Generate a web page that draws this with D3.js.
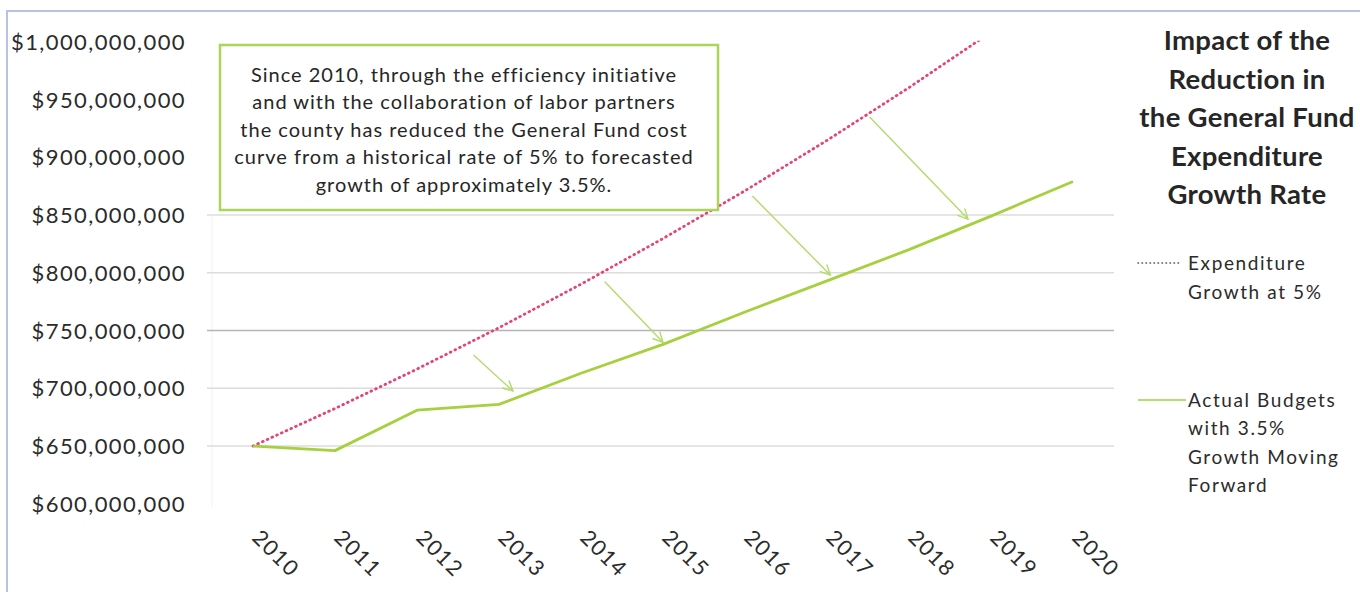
<!DOCTYPE html>
<html><head><meta charset="utf-8">
<script src="https://cdn.jsdelivr.net/npm/d3@7"></script>
<style>body{margin:0;background:#fff}svg{display:block}</style>
</head><body>
<svg id="chart" width="1360" height="592"></svg>
<script>
// ---- data (values in millions of dollars) ----
const years = ["2010","2011","2012","2013","2014","2015","2016","2017","2018","2019","2020"];
const growth5 = [650, 682.5, 716.6, 752.4, 790.1, 829.6, 871.0, 914.6, 960.3, 1008.3, 1058.7];
const actual  = [650, 646, 681, 686, 713, 738, 766, 793, 820, 849, 879];
const yTicks = [600, 650, 700, 750, 800, 850, 900, 950, 1000];
const gridTicks = [650, 700, 750, 800, 850];
const seriesNames = [["Expenditure", "Growth at 5%"], ["Actual Budgets", "with 3.5%", "Growth Moving", "Forward"]];
// arrows: [from year-index, from $M, to year-index, to $M]
const arrows = [[2.69, 728.8, 3.17, 697.6], [4.29, 792.3, 5.00, 739.8], [6.09, 866.5, 7.04, 798.0], [7.52, 934.8, 8.72, 846.5]];
const titleLines = ["Impact of the", "Reduction in", "the General Fund", "Expenditure", "Growth Rate"];
const noteLines = ["Since 2010, through the efficiency initiative", "and with the collaboration of labor partners",
  "the county has reduced the General Fund cost", "curve from a historical rate of 5% to forecasted",
  "growth of approximately 3.5%."];

// ---- layout ----
const svg = d3.select("#chart");
const FONT = "Lato, 'Open Sans', sans-serif";
const plot = {left: 212, right: 1114, top: 41.75, bottom: 503.75};
const x = d3.scalePoint().domain(years).range([plot.left, plot.right]).padding(0.5);
const xi = d3.scaleLinear().domain([0, years.length - 1]).range([x(years[0]), x(years[years.length - 1])]);
const y = d3.scaleLinear().domain([600, 1000]).range([plot.bottom, plot.top]);
const fmt = v => "$" + d3.format(",")(Math.round(v * 1e6));

// outer frame
svg.append("rect").attr("x", 7).attr("y", 11).attr("width", 1420).attr("height", 700)
  .attr("fill", "none").attr("stroke", "#b9c1e6").attr("stroke-width", 2);

// faint vertical axis line
svg.append("line").attr("x1", plot.left).attr("x2", plot.left).attr("y1", y(850)).attr("y2", y(600) + 3)
  .attr("stroke", "#f1f1f1").attr("stroke-width", 1);

// gridlines
svg.append("g").selectAll("line").data(gridTicks).join("line")
  .attr("x1", plot.left - 5).attr("x2", plot.right)
  .attr("y1", d => y(d)).attr("y2", d => y(d))
  .attr("stroke", d => d === 750 ? "#b5b5b5" : "#dcdcdc").attr("stroke-width", 1.3);

// y-axis labels
svg.append("g").selectAll("text").data(yTicks).join("text")
  .attr("x", 186).attr("y", d => y(d) + 8)
  .attr("text-anchor", "end").attr("font-family", FONT).attr("font-size", 22)
  .attr("letter-spacing", 1.4).attr("fill", "#2b2b2b").text(fmt);

// x-axis labels (rotated)
svg.append("g").selectAll("text").data(years).join("text")
  .attr("transform", d => `translate(${x(d) - 2},539) rotate(45)`)
  .attr("font-family", FONT).attr("font-size", 21.5).attr("letter-spacing", 1.4)
  .attr("fill", "#2b2b2b").text(d => d);

// clip for the plot area
svg.append("defs").append("clipPath").attr("id", "clip").append("rect")
  .attr("x", plot.left - 10).attr("y", plot.top - 1).attr("width", plot.right - plot.left + 20).attr("height", 500);

const line = d3.line().x((d, i) => x(years[i])).y(d => y(d));

// 5% growth dotted line
svg.append("path").datum(growth5).attr("clip-path", "url(#clip)")
  .attr("d", line).attr("fill", "none").attr("stroke", "#e2457a").attr("stroke-width", 2.8)
  .attr("stroke-dasharray", "0.8,4.4").attr("stroke-linecap", "round");

// actual budgets line
svg.append("path").datum(actual)
  .attr("d", line).attr("fill", "none").attr("stroke", "#a6d03f").attr("stroke-width", 2.8)
  .attr("stroke-linejoin", "round");

// arrow marker
const defs = svg.select("defs");
defs.append("marker").attr("id", "arr").attr("viewBox", "0 0 12 12").attr("refX", 11).attr("refY", 6)
  .attr("markerWidth", 12).attr("markerHeight", 12).attr("markerUnits", "userSpaceOnUse").attr("orient", "auto")
  .append("path").attr("d", "M1,1 L11,6 L1,11").attr("fill", "none").attr("stroke", "#b3da6a").attr("stroke-width", 1.4);

svg.append("g").selectAll("line").data(arrows).join("line")
  .attr("x1", d => xi(d[0])).attr("y1", d => y(d[1]))
  .attr("x2", d => xi(d[2])).attr("y2", d => y(d[3]))
  .attr("stroke", "#b3da6a").attr("stroke-width", 1.4).attr("marker-end", "url(#arr)");

// annotation box
const box = {x: 220, y: 45, w: 498, h: 165};
svg.append("rect").attr("x", box.x).attr("y", box.y).attr("width", box.w).attr("height", box.h)
  .attr("fill", "#fff").attr("stroke", "#aad45a").attr("stroke-width", 2.5);
svg.append("g").selectAll("text").data(noteLines).join("text")
  .attr("x", box.x + box.w / 2 - 5).attr("y", (d, i) => 81.7 + i * 27.5)
  .attr("text-anchor", "middle").attr("font-family", FONT).attr("font-size", 20)
  .attr("letter-spacing", 1).attr("fill", "#262626").text(d => d);

// title
svg.append("g").selectAll("text").data(titleLines).join("text")
  .attr("x", 1247).attr("y", (d, i) => 50 + i * 38.6)
  .attr("text-anchor", "middle").attr("font-family", FONT).attr("font-size", 27.5).attr("font-weight", "bold")
  .attr("letter-spacing", 0.3).attr("fill", "#262626").text(d => d);

// legend
const leg = svg.append("g");
leg.append("line").attr("x1", 1138).attr("x2", 1181).attr("y1", 263).attr("y2", 263)
  .attr("stroke", "#555").attr("stroke-width", 1.6).attr("stroke-dasharray", "0.5,3.5").attr("stroke-linecap", "round");
leg.append("line").attr("x1", 1138).attr("x2", 1186).attr("y1", 400).attr("y2", 400)
  .attr("stroke", "#b9dc70").attr("stroke-width", 2);
const legBase = [270, 406.7];
seriesNames.forEach((lines, k) => {
  leg.append("g").selectAll("text").data(lines).join("text")
    .attr("x", 1188).attr("y", (d, i) => legBase[k] + i * 28.5)
    .attr("font-family", FONT).attr("font-size", 19).attr("letter-spacing", 1.6)
    .attr("fill", "#2b2b2b").text(d => d);
});
</script>
</body></html>
